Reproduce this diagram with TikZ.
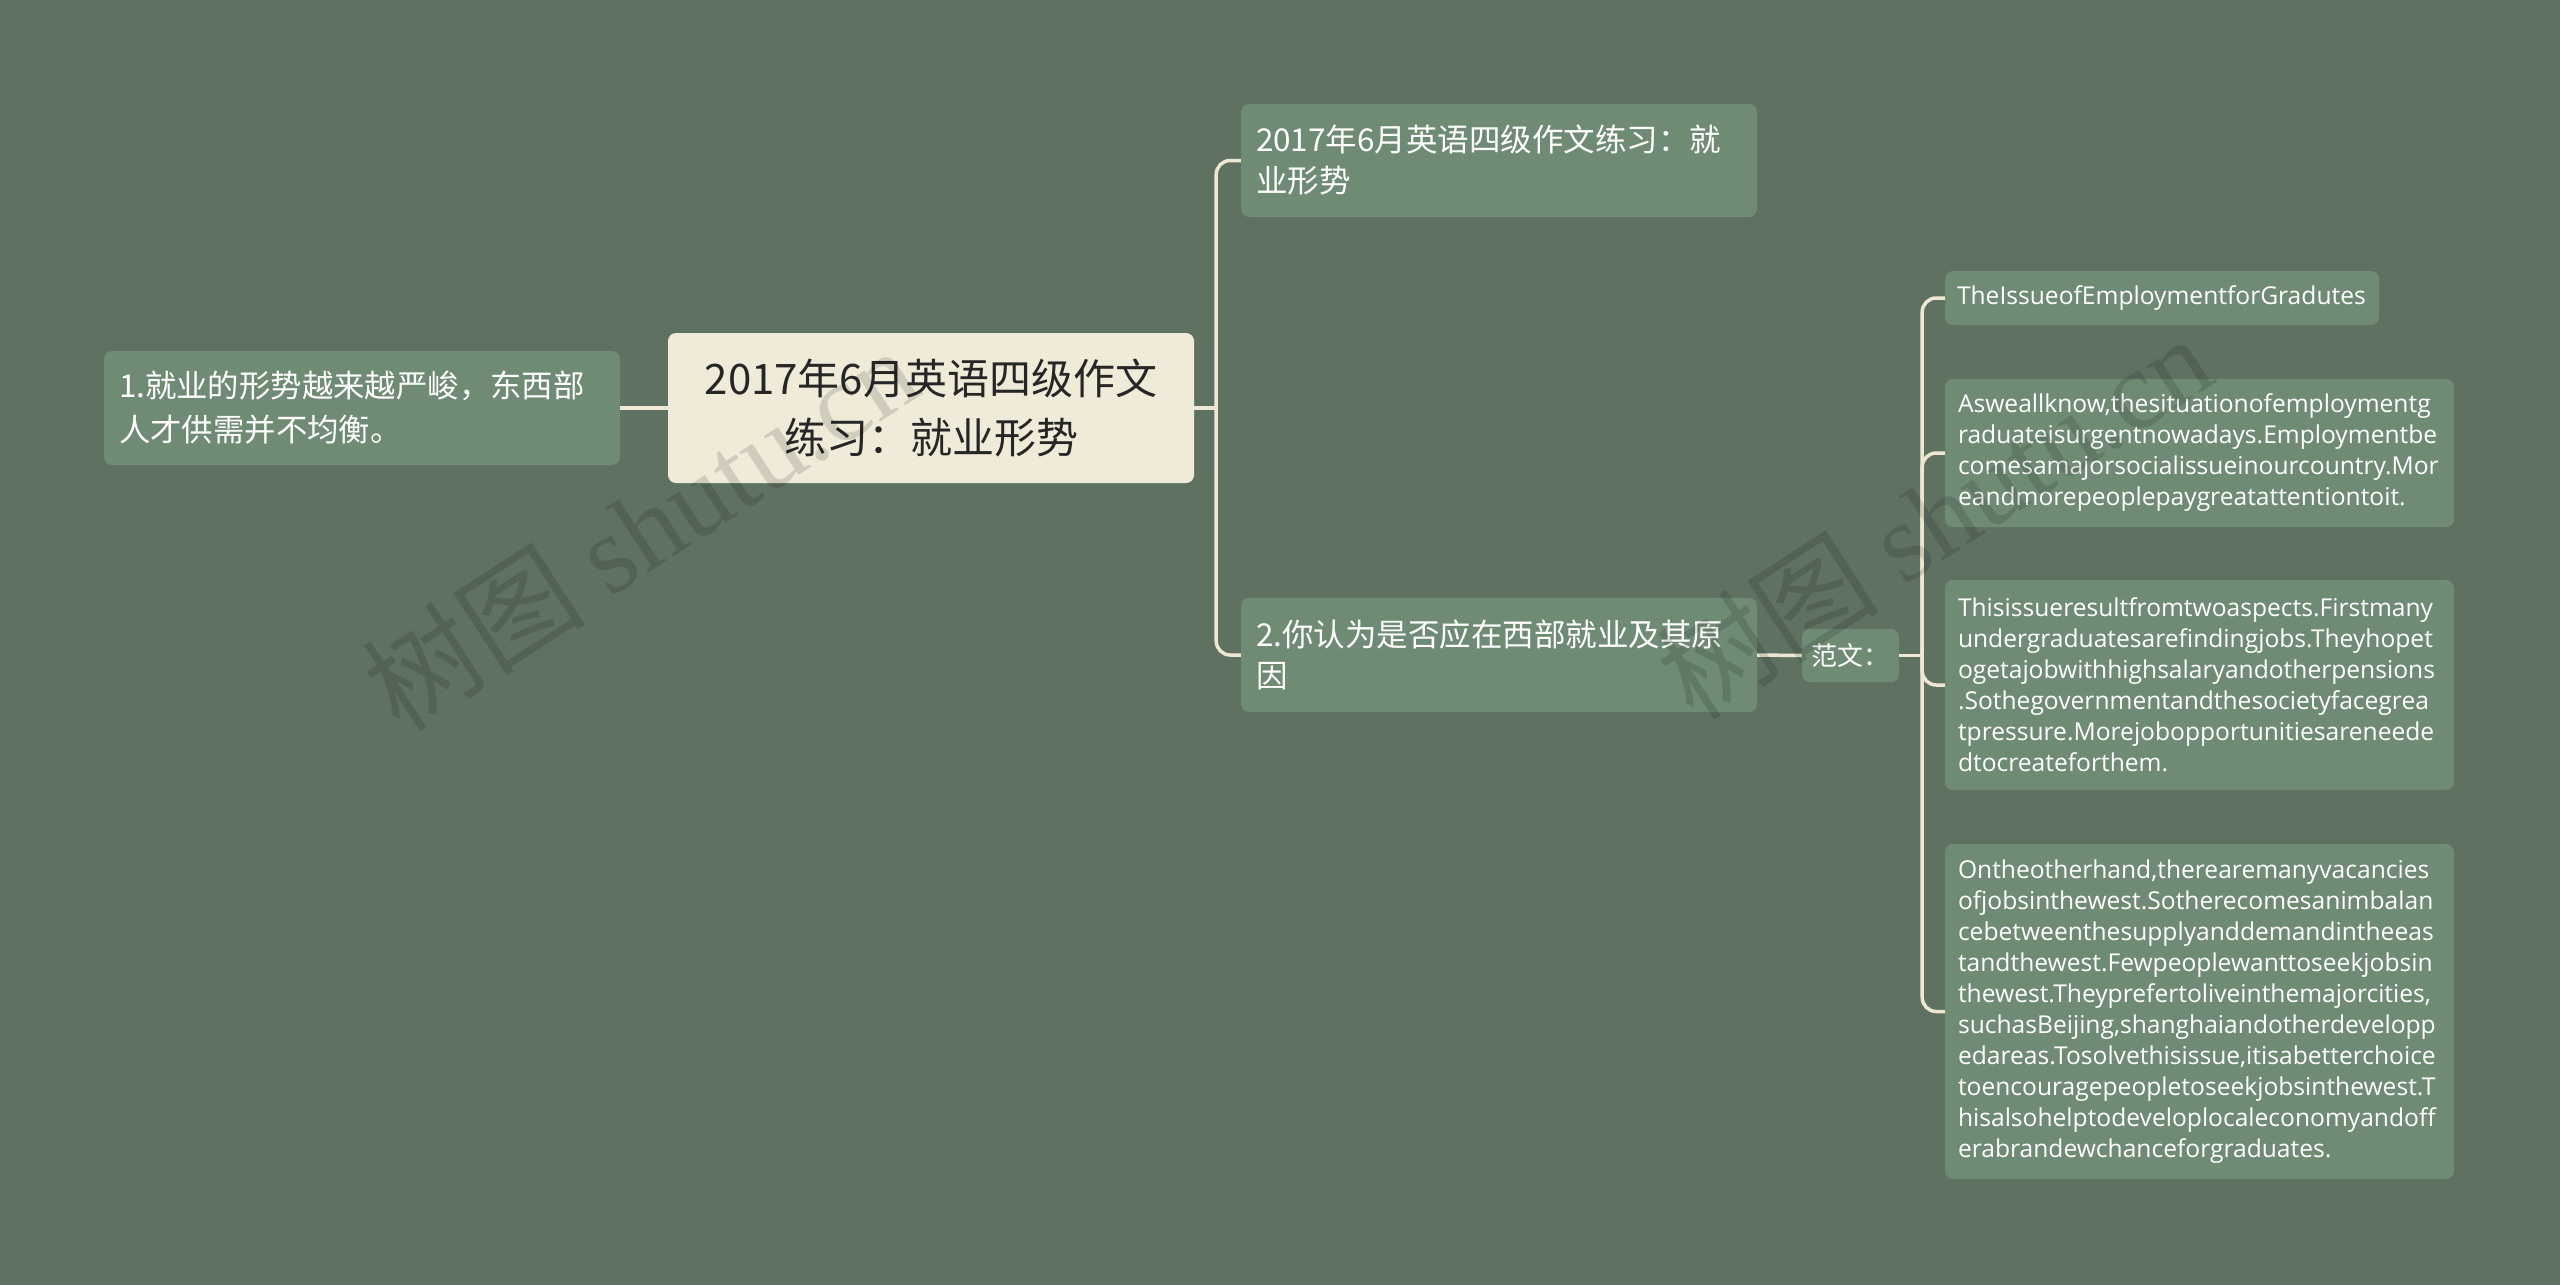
\documentclass[tikz,border=0pt]{standalone}
\usepackage{fontspec}
\newfontfamily\cjk{Noto Sans CJK SC}
\newfontfamily\lat{Open Sans}
\newfontfamily\wmserif{Liberation Serif}
\hyphenpenalty=10000
\exhyphenpenalty=10000
\definecolor{bg}{HTML}{5F7262}
\definecolor{nodefill}{HTML}{6F8B74}
\definecolor{rootfill}{HTML}{EFEBD8}
\definecolor{roottext}{HTML}{262626}
\definecolor{conncol}{HTML}{EEE8D2}
\begin{document}
\begin{tikzpicture}[x=1pt,y=-1pt,
  box/.style={rectangle, rounded corners=8pt, fill=nodefill, text=white, inner ysep=0pt, align=left},
  cjkbranch/.style={font=\cjk\fontsize{31.5}{41}\selectfont},
  leaf/.style={box, inner xsep=13pt, text width=483pt, font=\lat\fontsize{24.6}{31}\selectfont},
  conn/.style={draw=conncol, line width=3.5pt, rounded corners=14pt},
  wm/.style={text=black, text opacity=0.13, rotate=33, font=\cjk\fontsize{112}{120}\selectfont}
]
\useasboundingbox[fill=bg] (0,0) rectangle (2560,1285);

% nodes
\node[box, inner xsep=15pt, text width=486pt, minimum height=114pt,
      font=\cjk\fontsize{31.4}{44}\selectfont] (left) at (362,408)
  {1.就业的形势越来越严峻，东西部\\人才供需并不均衡。};

\node[box, fill=rootfill, text=roottext, align=center, inner xsep=10pt, text width=506pt,
      minimum height=150pt, font=\cjk\fontsize{42}{59}\selectfont] (root) at (931,408)
  {2017年6月英语四级作文\\练习：就业形势};

\node[box, cjkbranch, inner xsep=15pt, text width=486pt, minimum height=113pt] (b1) at (1499,160.5)
  {2017年6月英语四级作文练习：就\\业形势};

\node[box, cjkbranch, inner xsep=15pt, text width=486pt, minimum height=114pt] (b2) at (1499,655)
  {2.你认为是否应在西部就业及其原\\因};

\node[box, align=center, inner xsep=0pt, minimum width=97pt, minimum height=53pt,
      font=\cjk\fontsize{26}{30}\selectfont] (fw) at (1850.5,655.5) {范文：};

\node[leaf, inner xsep=12pt, text width=410pt, minimum height=54pt] (l1) at (2162,298)
  {TheIssueofEmploymentforGradutes};

\node[leaf, minimum height=148pt] (l2) at (2199.5,453)
  {Asweallknow,thesituationofemploymentg\\raduateisurgentnowadays.Employmentbe\\comesamajorsocialissueinourcountry.Mor\\eandmorepeoplepaygreatattentiontoit.};

\node[leaf, minimum height=210pt] (l3) at (2199.5,685)
  {Thisissueresultfromtwoaspects.Firstmany\\undergraduatesarefindingjobs.Theyhopet\\ogetajobwithhighsalaryandotherpensions\\.Sothegovernmentandthesocietyfacegrea\\tpressure.Morejobopportunitiesareneede\\dtocreateforthem.};

\node[leaf, minimum height=335pt] (l4) at (2199.5,1011.5)
  {Ontheotherhand,therearemanyvacancies\\ofjobsinthewest.Sotherecomesanimbalan\\cebetweenthesupplyanddemandintheeas\\tandthewest.Fewpeoplewanttoseekjobsin\\thewest.Theyprefertoliveinthemajorcities,\\suchasBeijing,shanghaiandotherdevelopp\\edareas.Tosolvethisissue,itisabetterchoice\\toencouragepeopletoseekjobsinthewest.T\\hisalsohelptodeveloplocaleconomyandoff\\erabrandewchanceforgraduates.};

% connectors
\coordinate (j1) at ([xshift=22pt]root.east);
\coordinate (j2) at ([xshift=23pt]fw.east);
\draw[conn] (left.east) -- (root.west);
\draw[conn] (root.east) -- (j1);
\draw[conn] (j1) |- (b1.west);
\draw[conn] (j1) |- (b2.west);
\draw[conn] (b2.east) -- (fw.west);
\draw[conn] (fw.east) -- (j2);
\draw[conn] (j2) |- (l1.west);
\draw[conn] (j2) |- (l2.west);
\draw[conn] (j2) |- (l3.west);
\draw[conn] (j2) |- (l4.west);

% watermarks (on top)
\node[wm] (wm1) at (640,528) {树图 {\wmserif shutu.cn}};
\node[wm] (wm2) at (1934,516) {树图 {\wmserif shutu.cn}};
\end{tikzpicture}
\end{document}
